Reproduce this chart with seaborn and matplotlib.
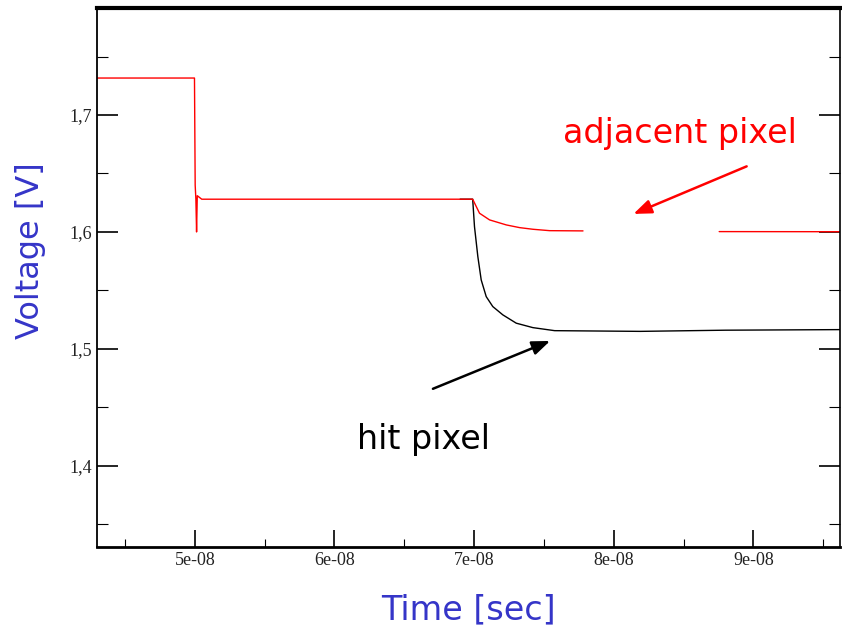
import matplotlib
matplotlib.use("Agg")
import matplotlib.pyplot as plt
from matplotlib.ticker import MultipleLocator, FuncFormatter
import numpy as np
import pandas as pd
import seaborn as sns

# adjacent pixel (red) - two pieces, the trace is interrupted between 7.8e-08 and 8.75e-08
adj_t1 = [4.30e-08, 4.998e-08, 5.003e-08, 5.008e-08, 5.013e-08, 5.018e-08, 5.05e-08,
          6.99e-08, 7.039e-08, 7.111e-08, 7.231e-08, 7.326e-08, 7.421e-08, 7.541e-08, 7.78e-08]
adj_v1 = [1.7316, 1.7316, 1.640, 1.628, 1.600, 1.631, 1.628,
          1.628, 1.616, 1.6103, 1.606, 1.6037, 1.6023, 1.6011, 1.6009]
adj_t2 = [8.755e-08, 9.62e-08]
adj_v2 = [1.6003, 1.6002]

# hit pixel (black)
hit_t = [6.90e-08, 6.99e-08, 7.003e-08, 7.027e-08, 7.051e-08, 7.087e-08, 7.134e-08, 7.206e-08,
         7.302e-08, 7.421e-08, 7.577e-08, 8.19e-08, 8.80e-08, 9.62e-08]
hit_v = [1.628, 1.628, 1.6045, 1.5789, 1.559, 1.5447, 1.5362, 1.5291,
         1.522, 1.5182, 1.5156, 1.5150, 1.5160, 1.5165]

sns.set_theme(style="white")
plt.rcParams["font.family"] = ["DejaVu Sans"]

fig = plt.figure(figsize=(8.42, 6.33), dpi=100)
ax = fig.add_axes([0.1152, 0.1358, 0.8824, 0.8516])

sns.lineplot(x=hit_t, y=hit_v, color="black", lw=1.0, estimator=None, sort=False, ax=ax)
sns.lineplot(x=adj_t1, y=adj_v1, color="red", lw=1.0, estimator=None, sort=False, ax=ax)
sns.lineplot(x=adj_t2, y=adj_v2, color="red", lw=1.0, estimator=None, sort=False, ax=ax)

ax.set_xlim(4.3e-08, 9.62e-08)
ax.set_ylim(1.3306, 1.7915)

ax.xaxis.set_major_locator(MultipleLocator(1e-08))
ax.xaxis.set_minor_locator(MultipleLocator(0.5e-08))
ax.yaxis.set_major_locator(MultipleLocator(0.1))
ax.yaxis.set_minor_locator(MultipleLocator(0.05))
ax.xaxis.set_major_formatter(FuncFormatter(lambda v, p: f"{v:.0e}"))
ax.yaxis.set_major_formatter(FuncFormatter(lambda v, p: f"{v:.1f}".replace(".", ",")))

ax.tick_params(which="both", direction="in", left=True, right=True, bottom=True, top=False,
               colors="black")
ax.tick_params(which="major", length=15, width=1.2)
ax.tick_params(which="minor", length=8, width=0.8)
ax.tick_params(axis="x", which="major", length=12)
ax.tick_params(axis="x", which="minor", length=6)
for lab in ax.get_xticklabels() + ax.get_yticklabels():
    lab.set_family("Liberation Serif")
    lab.set_fontsize(13)
    lab.set_color("#222222")

for side in ["left", "right", "top", "bottom"]:
    ax.spines[side].set_visible(True)
    ax.spines[side].set_color("black")
ax.spines["top"].set_linewidth(3)
ax.spines["bottom"].set_linewidth(2)
ax.spines["left"].set_linewidth(1.3)
ax.spines["right"].set_linewidth(1.2)
ax.spines["right"].set_linestyle((0, (1, 1)))

blue = "#3535c8"
ax.set_xlabel("Time [sec]", fontsize=24, color=blue, labelpad=18)
ax.set_ylabel("Voltage [V]", fontsize=23, color=blue)
ax.yaxis.set_label_coords(-0.068, 0.55)

ax.text(8.475e-08, 1.6846, "adjacent pixel", color="red", fontsize=24, ha="center", va="center")
ax.text(6.637e-08, 1.4222, "hit pixel", color="black", fontsize=24, ha="center", va="center")
ax.annotate("", xy=(8.123e-08, 1.6145), xytext=(8.97e-08, 1.657),
            arrowprops=dict(arrowstyle="-|>,head_length=0.9,head_width=0.35", color="red", lw=1.8))
ax.annotate("", xy=(7.563e-08, 1.5077), xytext=(6.687e-08, 1.465),
            arrowprops=dict(arrowstyle="-|>,head_length=0.9,head_width=0.35", color="black", lw=1.8))

fig.savefig("out.png", dpi=100)
